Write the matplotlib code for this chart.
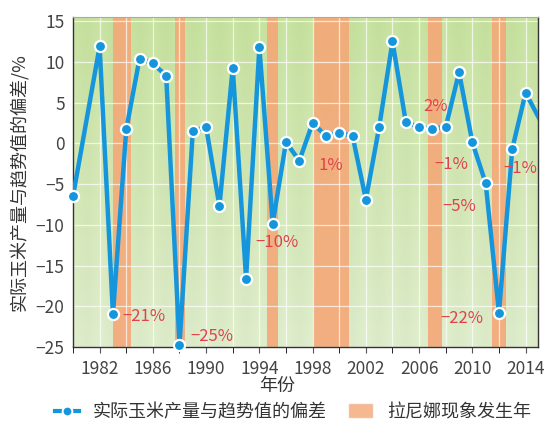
import numpy as np
import matplotlib
matplotlib.use("Agg")
import matplotlib.pyplot as plt
from matplotlib.lines import Line2D
from matplotlib.patches import Patch

plt.rcParams['font.family'] = ['Noto Sans CJK SC', 'DejaVu Sans']

# Deviation of actual maize yield from trend (%)
years = list(range(1980, 2016))
deviation = [-6.5, np.nan, 11.9, -21.0, 1.7, 10.4, 9.8, 8.3, -24.8, 1.5,
             2.0, -7.7, 9.3, -16.6, 11.8, -9.85, 0.15, -2.15, 2.5, 0.9,
             1.3, 0.9, -6.9, 2.0, 12.5, 2.6, 2.0, 1.8, 2.0, 8.7,
             0.1, -4.9, -20.8, -0.65, 6.2, 3.1]

# La Nina periods (start, end in fractional years)
nina_start = [1983.0, 1987.65, 1994.55, 1998.0, 2006.65, 2011.5]
nina_end = [1984.35, 1988.45, 1995.4, 2000.7, 2007.7, 2012.55]

# Annotated values
ann_text = ['-21%', '-25%', '-10%', '1%', '2%', '-1%', '-1%', '-5%', '-22%']
ann_x = [1985.3, 1990.4, 1995.3, 1999.4, 2007.2, 2008.4, 2013.6, 2009.0, 2009.2]
ann_y = [-21.3, -23.7, -12.2, -2.7, 4.5, -2.6, -3.1, -7.7, -21.5]

x = np.array([y for y, v in zip(years, deviation) if not np.isnan(v)], float)
v = np.array([d for d in deviation if not np.isnan(d)], float)

fig = plt.figure(figsize=(5.48, 4.22), dpi=100)
ax = fig.add_axes([73 / 548, 1 - 347 / 422, 465 / 548, 330 / 422])

xmin, xmax = 1980, 2014.93
ymin, ymax = -25, 15.5
ax.set_xlim(xmin, xmax)
ax.set_ylim(ymin, ymax)

# green background with a soft vertical gradient and faint yearly stripes
ny, nx = 200, 350
top = np.array([198, 225, 158]) / 255
bot = np.array([222, 236, 203]) / 255
t = np.linspace(0, 1, ny)[:, None, None]
img = top * (1 - t) + bot * t
img = np.repeat(img, nx, axis=1)
cols = np.linspace(xmin, xmax, nx)
stripe = 0.008 * np.cos(np.pi * (cols - 1980))[None, :, None]
img = np.clip(img + stripe, 0, 1)
ax.imshow(img, extent=[xmin, xmax, ymin, ymax], aspect='auto',
          origin='upper', zorder=0, interpolation='bilinear')

# La Nina bands
for s, e in zip(nina_start, nina_end):
    ax.axvspan(s, e, color='#f5a878', alpha=0.9, lw=0, zorder=1)

# grid
for gx in range(1980, 2016, 2):
    ax.axvline(gx, color='white', lw=0.9, alpha=0.7, zorder=2)
for gy in range(-25, 16, 5):
    ax.axhline(gy, color='white', lw=0.9, alpha=0.7, zorder=2)

blue = '#1596dc'
ax.plot(x, v, color=blue, lw=3.2, zorder=3, solid_joinstyle='miter')
ax.plot(x[x <= 2014], v[x <= 2014], ls='none', marker='o', ms=8,
        mfc=blue, mec='white', mew=1.6, zorder=4, clip_on=False)

red = '#e0424c'
for s, ax_x, ax_y in zip(ann_text, ann_x, ann_y):
    ax.text(ax_x, ax_y, s.replace('-', '\u2212'), color=red, fontsize=12,
            ha='center', va='center', zorder=5)

ax.set_xticks(range(1982, 2015, 4))
ax.set_xticks(range(1980, 2016, 2), minor=True)
ax.set_yticks(range(-25, 16, 5))
ax.set_yticklabels([str(t).replace('-', '\u2212') for t in range(-25, 16, 5)])
ax.tick_params(axis='both', labelsize=12.5, labelcolor='#444444', color='#555555')
ax.tick_params(axis='y', length=0, pad=6)
ax.tick_params(axis='x', which='major', length=4, pad=5)
ax.tick_params(axis='x', which='minor', length=4)

for side in ['left', 'bottom', 'right']:
    ax.spines[side].set_color('#333333')
    ax.spines[side].set_linewidth(1.0)
ax.spines['top'].set_color('#aaaaaa')
ax.spines['top'].set_linewidth(0.8)

ax.set_ylabel('实际玉米产量与趋势值的偏差/%', fontsize=13, color='#333333',
              labelpad=5)
fig.text(277 / 548, 1 - 386 / 422, '年份', fontsize=13, color='#333333',
         ha='center', va='center')

handles = [Line2D([], [], color=blue, lw=3, marker='o', ms=7, mfc=blue,
                  mec='white', mew=1.4),
           Patch(facecolor='#f6b890', edgecolor='#f0c0a0')]
fig.legend(handles, ['实际玉米产量与趋势值的偏差', '拉尼娜现象发生年'],
           loc='center', bbox_to_anchor=(293 / 548, 1 - 412 / 422), ncol=2,
           frameon=False, handlelength=1.3, columnspacing=1.2,
           handletextpad=0.8, labelcolor='#333333',
           prop={'size': 13})

fig.savefig('out.png', dpi=100)
